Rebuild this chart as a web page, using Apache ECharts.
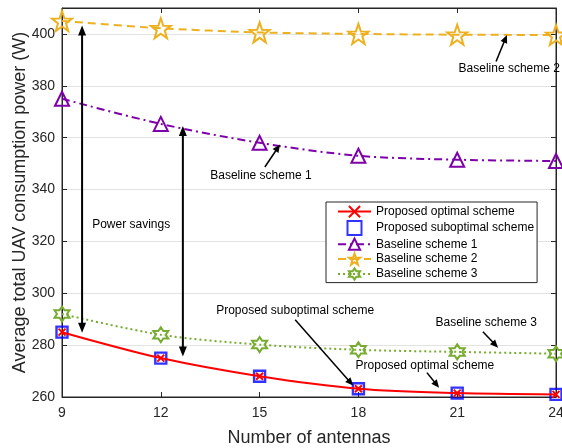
<!DOCTYPE html>
<html>
<head>
<meta charset="utf-8">
<script src="https://cdn.jsdelivr.net/npm/echarts@6/dist/echarts.min.js"></script>
<style>
  html, body { margin: 0; padding: 0; background: #fff; }
  #chart { width: 562px; height: 448px; }
</style>
</head>
<body>
<div id="chart"></div>
<script>
// Number of antennas
const antennas = [9, 12, 15, 18, 21, 24];
// Average total UAV consumption power (W)
const proposedOptimal    = [285, 275, 268, 263.2, 261.5, 261];
const proposedSuboptimal = [285, 275, 268, 263.2, 261.5, 261];
const baseline1          = [375, 365.3, 358, 353, 351.5, 351];
const baseline2          = [405, 402.2, 400.6, 400, 399.7, 399.6];
const baseline3          = [292, 284, 280.2, 278.2, 277.4, 276.7];
const yTicks = [260, 280, 300, 320, 340, 360, 380, 400];
const xTicks = [9, 12, 15, 18, 21, 24];

// annotation arrows in data coordinates: [from, to, doubleHeaded, lineWidth]
const arrows = [
  [[9.61, 284.8], [9.61, 403.3], true, 2],
  [[12.67, 275.6], [12.67, 364.5], true, 2],
  [[22.18, 389.4], [22.51, 399.6], false, 1.5],
  [[15.16, 348.7], [15.62, 357.4], false, 1.5],
  [[16.08, 289.8], [17.84, 264.4], false, 1.5],
  [[20.08, 269.4], [20.45, 263.6], false, 1.5],
  [[21.78, 285.2], [22.24, 279.0], false, 1.5]
];
// annotation texts in data coordinates (centre of text)
const notes = [
  ['Baseline scheme 2', [22.58, 386.5]],
  ['Baseline scheme 1', [15.04, 345.3]],
  ['Power savings', [11.1, 326.5]],
  ['Proposed suboptimal scheme', [16.08, 293.1]],
  ['Proposed optimal scheme', [20.02, 272.0]],
  ['Baseline scheme 3', [21.88, 288.6]]
];

const pair = ys => antennas.map((x, i) => [x, ys[i]]);

function starPath(points, outer, inner) {
  let d = '';
  for (let i = 0; i < points * 2; i++) {
    const r = i % 2 === 0 ? outer : inner;
    const a = -Math.PI / 2 + i * Math.PI / points;
    d += (i === 0 ? 'M' : 'L') + (r * Math.cos(a)).toFixed(3) + ',' + (r * Math.sin(a)).toFixed(3);
  }
  return 'path://' + d + 'Z';
}
const pentagram = starPath(5, 10, 4.0);
const hexagram = starPath(6, 10, 10 / Math.sqrt(3));
const triangle = 'path://M0,-10L8.66,5L-8.66,5Z';
const cross = 'path://M-1,-1L1,1M1,-1L-1,1';
const square = 'path://M0,0L10,0L10,10L0,10Z';

const RED = '#ff0000', BLUE = '#0000ff', PURPLE = '#7e00a8', ORANGE = '#edb120', GREEN = '#77ac30';
const AX = '#262626';
const font = 'Liberation Sans, Arial, Helvetica, sans-serif';

const chart = echarts.init(document.getElementById('chart'), null, { renderer: 'canvas' });

const hidden = { show: false };
chart.setOption({
  animation: false,
  backgroundColor: '#fff',
  textStyle: { fontFamily: font },
  grid: {
    left: 62, right: 6, top: 8, bottom: 51, containLabel: false, outerBoundsMode: 'none',
    show: true, borderColor: AX, borderWidth: 1, backgroundColor: 'transparent'
  },
  xAxis: [{
    type: 'value', min: 9, max: 24, interval: 3,
    name: 'Number of antennas', nameLocation: 'middle', nameGap: 32, nameMoveOverlap: false,
    nameTextStyle: { fontSize: 18, color: AX, fontFamily: font },
    axisLine: { show: true, onZero: false, lineStyle: { color: AX, width: 1 } },
    axisTick: { show: true, inside: true, length: 5, lineStyle: { color: AX }, customValues: xTicks },
    axisLabel: { fontSize: 14, color: AX, margin: 9, fontFamily: font, customValues: xTicks },
    splitLine: hidden
  }, {
    type: 'value', min: 9, max: 24, interval: 3, position: 'top',
    axisLine: { show: true, onZero: false, lineStyle: { color: AX } },
    axisTick: { show: true, inside: true, length: 5, lineStyle: { color: AX }, customValues: xTicks },
    axisLabel: hidden, splitLine: hidden
  }],
  yAxis: [{
    type: 'value', min: 260, max: 410, interval: 20,
    name: 'Average total UAV consumption power (W)', nameLocation: 'middle', nameGap: 33, nameMoveOverlap: false,
    nameTextStyle: { fontSize: 18, color: AX, fontFamily: font },
    axisLine: { show: true, onZero: false, lineStyle: { color: AX, width: 1 } },
    axisTick: { show: true, inside: true, length: 5, lineStyle: { color: AX }, customValues: yTicks },
    axisLabel: { fontSize: 14, color: AX, margin: 7, fontFamily: font, customValues: yTicks },
    splitLine: { show: true, lineStyle: { color: '#e3e3e3', width: 1 } }
  }, {
    type: 'value', min: 260, max: 410, interval: 20, position: 'right',
    axisLine: { show: true, onZero: false, lineStyle: { color: AX } },
    axisTick: { show: true, inside: true, length: 5, lineStyle: { color: AX }, customValues: yTicks },
    axisLabel: hidden, splitLine: hidden
  }],
  legend: {
    orient: 'vertical', left: 326, top: 202,
    padding: [3, 3, 2, 11], itemGap: 1.7, itemWidth: 33, itemHeight: 14,
    backgroundColor: '#fff', borderColor: AX, borderWidth: 1,
    textStyle: { fontSize: 12, color: '#000', fontFamily: font },
    data: [
      'Proposed optimal scheme',
      { name: 'Proposed suboptimal scheme', icon: square },
      'Baseline scheme 1', 'Baseline scheme 2', 'Baseline scheme 3'
    ]
  },
  series: [
    {
      name: 'Proposed suboptimal scheme', type: 'scatter', z: 3,
      data: pair(proposedSuboptimal), symbol: square, symbolSize: 11,
      itemStyle: { color: 'rgba(0,0,0,0)', borderColor: BLUE, borderWidth: 2.4 }
    },
    {
      name: 'Baseline scheme 3', type: 'line', smooth: 0.3, z: 2,
      data: pair(baseline3), symbol: hexagram, symbolSize: 15,
      lineStyle: { color: GREEN, width: 2, type: [2, 3] },
      itemStyle: { color: 'rgba(0,0,0,0)', borderColor: GREEN, borderWidth: 2 }
    },
    {
      name: 'Baseline scheme 1', type: 'line', smooth: 0.3, z: 2,
      data: pair(baseline1), symbol: triangle, symbolSize: 14,
      lineStyle: { color: PURPLE, width: 2, type: [8, 4, 2, 4] },
      itemStyle: { color: 'rgba(0,0,0,0)', borderColor: PURPLE, borderWidth: 2 }
    },
    {
      name: 'Baseline scheme 2', type: 'line', smooth: 0.3, z: 2,
      data: pair(baseline2), symbol: pentagram, symbolSize: 20,
      lineStyle: { color: ORANGE, width: 2, type: [8, 5] },
      itemStyle: { color: 'rgba(0,0,0,0)', borderColor: ORANGE, borderWidth: 2 }
    },
    {
      name: 'Proposed optimal scheme', type: 'line', smooth: 0.3, z: 4,
      data: pair(proposedOptimal), symbol: cross, symbolSize: 7,
      lineStyle: { color: RED, width: 2 },
      itemStyle: { color: 'rgba(0,0,0,0)', borderColor: RED, borderWidth: 2 }
    }
  ]
});

// arrows and text annotations placed through the grid's coordinate system
function arrowHead(tip, from, len, halfW) {
  const dx = tip[0] - from[0], dy = tip[1] - from[1];
  const L = Math.hypot(dx, dy), ux = dx / L, uy = dy / L;
  const bx = tip[0] - ux * len, by = tip[1] - uy * len;
  return [[tip[0], tip[1]], [bx - uy * halfW, by + ux * halfW], [bx + uy * halfW, by - ux * halfW]];
}
const toPx = p => chart.convertToPixel({ gridIndex: 0 }, p);
const graphics = [];
arrows.forEach(([a, b, both, w]) => {
  const pa = toPx(a), pb = toPx(b);
  const len = both ? 10 : 8, hw = both ? 4 : 3.5;
  // shorten the shaft so it ends inside the head
  const dx = pb[0] - pa[0], dy = pb[1] - pa[1], L = Math.hypot(dx, dy);
  const ux = dx / L, uy = dy / L;
  const s = both ? [pa[0] + ux * len * 0.8, pa[1] + uy * len * 0.8] : pa;
  const e = [pb[0] - ux * len * 0.8, pb[1] - uy * len * 0.8];
  graphics.push({ type: 'line', z: 10, shape: { x1: s[0], y1: s[1], x2: e[0], y2: e[1] }, style: { stroke: '#000', lineWidth: w } });
  graphics.push({ type: 'polygon', z: 10, shape: { points: arrowHead(pb, pa, len, hw) }, style: { fill: '#000' } });
  if (both) graphics.push({ type: 'polygon', z: 10, shape: { points: arrowHead(pa, pb, len, hw) }, style: { fill: '#000' } });
});
notes.forEach(([txt, p]) => {
  const q = toPx(p);
  graphics.push({ type: 'text', z: 10, x: q[0], y: q[1], style: { text: txt, fontSize: 12, fontFamily: font, fill: '#000', align: 'center', verticalAlign: 'middle' } });
});
chart.setOption({ graphic: graphics });
</script>
</body>
</html>
